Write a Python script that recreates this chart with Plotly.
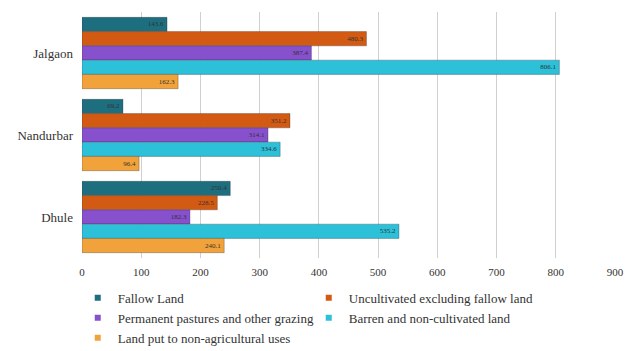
import plotly.graph_objects as go

districts = ["Jalgaon", "Nandurbar", "Dhule"]
series_names = [
    "Fallow Land",
    "Uncultivated excluding fallow land",
    "Permanent pastures and other grazing",
    "Barren and non-cultivated land",
    "Land put to non-agricultural uses",
]
fallow = [143.6, 69.2, 250.4]
uncultivated = [480.3, 351.2, 228.5]
pastures = [387.4, 314.1, 182.3]
barren = [806.1, 334.6, 535.2]
nonagri = [162.3, 96.4, 240.1]
colors = ["#1d6f80", "#d35a12", "#8750cc", "#2cc0d9", "#f2a23a"]
x_ticks = [0, 100, 200, 300, 400, 500, 600, 700, 800, 900]

values = [fallow, uncultivated, pastures, barren, nonagri]
SERIF = "Times New Roman"

fig = go.Figure()
for name, vals, col in zip(series_names, values, colors):
    fig.add_trace(go.Bar(
        y=districts, x=vals, name=name, orientation="h", showlegend=False,
        marker=dict(color=col, line=dict(color="rgba(40,40,40,0.5)", width=0.6)),
        text=[f"{v:.1f}" for v in vals], textposition="inside",
        insidetextanchor="end",
        textfont=dict(family=SERIF, size=7, color="#333333"),
    ))
# legend proxies with small square markers
for name, col in zip(series_names, colors):
    fig.add_trace(go.Scatter(
        x=[None], y=[None], mode="markers", name=name,
        marker=dict(symbol="square", size=6, color=col),
    ))

fig.update_layout(
    width=627, height=351,
    barmode="group", bargap=0.13, bargroupgap=0.0,
    plot_bgcolor="white", paper_bgcolor="white",
    margin=dict(l=82, r=12, t=12, b=93, autoexpand=False),
    font=dict(family=SERIF, size=11, color="#333333"),
    uniformtext=dict(minsize=6, mode="show"),
    xaxis=dict(range=[0, 900], tickvals=x_ticks, showgrid=True,
               gridcolor="#d0d0d0", gridwidth=1, zeroline=False,
               showline=False, ticks="", ticklabelstandoff=6,
               tickfont=dict(size=11, family=SERIF)),
    yaxis=dict(autorange="reversed", showgrid=False, ticks="",
               ticklabelstandoff=8, tickfont=dict(size=13, family=SERIF)),
    legend=dict(orientation="h", xref="container", yref="container",
                x=0.124, xanchor="left", y=0.194, yanchor="top",
                entrywidth=186, itemwidth=30,
                font=dict(size=13, family=SERIF), tracegroupgap=0),
    showlegend=True,
)

fig.write_html("out.html")
